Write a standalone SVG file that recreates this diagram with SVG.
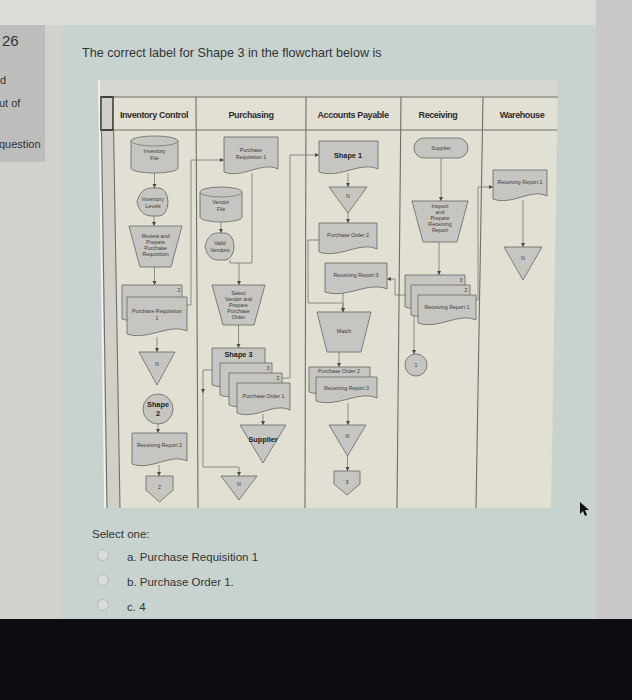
<svg xmlns="http://www.w3.org/2000/svg" width="632" height="700" viewBox="0 0 632 700">
<style>
.hdr{font-family:"Liberation Sans",Arial,sans-serif;font-size:9px;font-weight:bold;fill:#2e2e2e;text-anchor:middle;letter-spacing:-0.4px}
.t{font-family:"Liberation Sans",Arial,sans-serif;font-size:5.3px;fill:#3a3a3a;text-anchor:middle}
.tb{font-family:"Liberation Sans",Arial,sans-serif;font-size:7.3px;font-weight:bold;fill:#222;text-anchor:middle}
.sh{fill:#c6c5c1;stroke:#666;stroke-width:0.8}
.ln{fill:none;stroke:#777775;stroke-width:0.8}
.lane{stroke:#6e6e6c;stroke-width:1.1}
.ui{font-family:"Liberation Sans",Arial,sans-serif;fill:#333}
</style>
<defs>
<marker id="ar" markerUnits="userSpaceOnUse" markerWidth="6" markerHeight="6" refX="4" refY="2" orient="auto">
<path d="M0,0 L4,2 L0,4 Z" fill="#4a4a4a"/>
</marker>
</defs>

<!-- page background -->
<rect x="0" y="0" width="632" height="700" fill="#d2d1ce"/>
<rect x="0" y="0" width="632" height="25" fill="#dcdbd8"/>
<rect x="596" y="0" width="36" height="620" fill="#c9c8c6"/>
<rect x="0" y="25" width="45" height="137" fill="#bdbdbb"/>
<rect x="63" y="25" width="533" height="595" fill="#c8d3d0"/>
<rect x="0" y="619" width="632" height="81" fill="#0b0d11"/>

<g id="sidebar">
<text x="2" y="46" class="ui" font-size="15">26</text>
<text x="0" y="84" class="ui" font-size="11">d</text>
<text x="-1" y="107" class="ui" font-size="11">ut of</text>
<text x="-1" y="148" class="ui" font-size="11">question</text>
</g>

<text x="82" y="57" class="ui" font-size="12.6">The correct label for Shape 3 in the flowchart below is</text>

<!-- flowchart frame -->
<g id="frame">
<polygon points="98,80 558,80 551,508 105,508" fill="#e2dfd3"/>
<rect x="98" y="80" width="460" height="17" fill="#d7d6d1"/>
<polygon points="101,97 113,97 120,508 107,508" fill="#d1cfc8"/>
<line x1="99" y1="80" x2="105" y2="508" stroke="#f4f4f0" stroke-width="1.5"/>
<line x1="100" y1="97" x2="558" y2="97" class="lane"/>
<line x1="100" y1="130" x2="557" y2="130" class="lane"/>
<rect x="101" y="97" width="12" height="33" fill="none" stroke="#2a2a2a" stroke-width="1.6"/>
<line x1="101" y1="97" x2="107" y2="508" class="lane"/>
<line x1="113" y1="97" x2="120" y2="508" class="lane"/>
<line x1="196" y1="97" x2="198" y2="508" class="lane"/>
<line x1="306" y1="97" x2="305" y2="508" class="lane"/>
<line x1="401" y1="97" x2="397" y2="508" class="lane"/>
<line x1="483" y1="97" x2="476" y2="508" class="lane"/>
<text x="154" y="118" class="hdr">Inventory Control</text>
<text x="251" y="118" class="hdr">Purchasing</text>
<text x="353" y="118" class="hdr">Accounts Payable</text>
<text x="438" y="118" class="hdr">Receiving</text>
<text x="522" y="118" class="hdr">Warehouse</text>
</g>

<!-- connectors -->
<g id="connectors">
<path class="ln" d="M154.5 173 V188" marker-end="url(#ar)"/>
<path class="ln" d="M154 216 V226" marker-end="url(#ar)"/>
<path class="ln" d="M154.5 267 V285" marker-end="url(#ar)"/>
<path class="ln" d="M157 337 V352" marker-end="url(#ar)"/>
<path class="ln" d="M158 424 V433" marker-end="url(#ar)"/>
<path class="ln" d="M159 465 V476" marker-end="url(#ar)"/>
<path class="ln" d="M187 305 H191 V160 H224" marker-end="url(#ar)"/>
<path class="ln" d="M221 222 V233" marker-end="url(#ar)"/>
<path class="ln" d="M252 173 V263 H230 V260"/>
<path class="ln" d="M239 263 V285" marker-end="url(#ar)"/>
<path class="ln" d="M238.5 325 V348" marker-end="url(#ar)"/>
<path class="ln" d="M263 414 V425" marker-end="url(#ar)"/>
<path class="ln" d="M212 370 H203 V393" marker-end="url(#ar)"/>
<path class="ln" d="M203 392 V467 H239 V476" marker-end="url(#ar)"/>
<path class="ln" d="M282 378 H290 V155 H319" marker-end="url(#ar)"/>
<path class="ln" d="M348 173 V187" marker-end="url(#ar)"/>
<path class="ln" d="M348 213 V223" marker-end="url(#ar)"/>
<path class="ln" d="M319 240 H308 V303 H343 V312" marker-end="url(#ar)"/>
<path class="ln" d="M343 293 V312" marker-end="url(#ar)"/>
<path class="ln" d="M405 295 H395 V279 H387" marker-end="url(#ar)"/>
<path class="ln" d="M339 352 V367" marker-end="url(#ar)"/>
<path class="ln" d="M348 403 V425" marker-end="url(#ar)"/>
<path class="ln" d="M347.5 456 V471" marker-end="url(#ar)"/>
<path class="ln" d="M441 158 V201" marker-end="url(#ar)"/>
<path class="ln" d="M439 242 V275" marker-end="url(#ar)"/>
<path class="ln" d="M414 316 V354" marker-end="url(#ar)"/>
<path class="ln" d="M476 300 H478 V187 H493" marker-end="url(#ar)"/>
<path class="ln" d="M523 200 V247" marker-end="url(#ar)"/>
</g>

<!-- Inventory Control -->
<g id="inventory-file">
<path class="sh" d="M131 141 A23.5 5 0 0 1 178 141 V168 A23.5 5 0 0 1 131 168 Z"/>
<path class="ln" d="M131 141 A23.5 5 0 0 0 178 141" stroke="#666"/>
<text x="154.5" y="153" class="t">Inventory</text>
<text x="154.5" y="159.5" class="t">File</text>
</g>
<g id="inventory-levels">
<path class="sh" d="M137 202 C139 193 144 188 152 188 H159 A9 14 0 0 1 159 216 H152 C144 216 139 211 137 202 Z"/>
<text x="153" y="201" class="t">Inventory</text>
<text x="153" y="207.5" class="t">Levels</text>
</g>
<g id="prepare-requisition">
<path class="sh" d="M129 226 H182 L171 267 H140 Z"/>
<text x="155.5" y="238" class="t">Review and</text>
<text x="155.5" y="244" class="t">Prepare</text>
<text x="155.5" y="250" class="t">Purchase</text>
<text x="155.5" y="256" class="t">Requisition</text>
</g>
<g id="purchase-requisition-stack">
<path class="sh" d="M122 285 h60 v31 c-18 -8 -39 10 -60 3 z"/>
<text x="179" y="292" class="t">2</text>
<path class="sh" d="M127 297 h60 v34 c-18 -8 -39 10 -60 3 z"/>
<text x="157" y="313" class="t">Purchase Requisition</text>
<text x="157" y="320" class="t">1</text>
</g>
<g id="inv-file-n">
<path class="sh" d="M139 352 H175 L157 385 Z"/>
<text x="157" y="366" class="t">N</text>
</g>
<g id="shape-2">
<circle class="sh" cx="158" cy="409" r="15"/>
<text x="158" y="407" class="tb" font-size="6.6">Shape</text>
<text x="158" y="415.5" class="tb" font-size="6.6">2</text>
</g>
<g id="receiving-report-2">
<path class="sh" d="M132 433 h55 v28 c-16.5 -8 -35.8 10 -55 3 z"/>
<text x="159.5" y="447" class="t">Receiving Report 2</text>
</g>
<g id="offpage-2">
<path class="sh" d="M146 476 H173 V490 L159.5 502 L146 490 Z"/>
<text x="159.5" y="489" class="t">2</text>
</g>

<!-- Purchasing -->
<g id="purchase-requisition-1">
<path class="sh" d="M224 137 h54 v32 c-16 -8 -35 10 -54 3 z"/>
<text x="251" y="152" class="t">Purchase</text>
<text x="251" y="158.5" class="t">Requisition 1</text>
</g>
<g id="vendor-file">
<path class="sh" d="M200 192 A21 5 0 0 1 242 192 V217 A21 5 0 0 1 200 217 Z"/>
<path class="ln" d="M200 192 A21 5 0 0 0 242 192" stroke="#666"/>
<text x="221" y="204" class="t">Vendor</text>
<text x="221" y="210.5" class="t">File</text>
</g>
<g id="valid-vendors">
<path class="sh" d="M205 246.5 C207 238 211 233 218 233 H225 A9 13.5 0 0 1 225 260 H218 C211 260 207 255 205 246.5 Z"/>
<text x="220" y="245" class="t" font-size="5.8">Valid</text>
<text x="220" y="251.5" class="t" font-size="5.8">Vendors</text>
</g>
<g id="prepare-po">
<path class="sh" d="M212 285 H265 L254 325 H223 Z"/>
<text x="238.5" y="295" class="t" font-size="4.9">Select</text>
<text x="238.5" y="301" class="t" font-size="4.9">Vendor and</text>
<text x="238.5" y="307" class="t" font-size="4.9">Prepare</text>
<text x="238.5" y="313" class="t" font-size="4.9">Purchase</text>
<text x="238.5" y="319" class="t" font-size="4.9">Order</text>
</g>
<g id="purchase-order-stack">
<path class="sh" d="M212 348 h53 v34 c-16 -8 -34 10 -53 3 z"/>
<text x="238.5" y="356.5" class="tb">Shape 3</text>
<path class="sh" d="M220 363 h52 v29 c-16 -8 -34 10 -52 3 z"/>
<text x="268" y="370" class="t">3</text>
<path class="sh" d="M229 373 h53 v29 c-16 -8 -34 10 -53 3 z"/>
<text x="278" y="380" class="t">2</text>
<path class="sh" d="M237 383 h53 v27 c-16 -8 -34 10 -53 3 z"/>
<text x="263.5" y="398" class="t">Purchase Order 1</text>
</g>
<g id="supplier-out">
<path class="sh" d="M240 425 H286 L263 463 Z"/>
<text x="263" y="442" class="tb">Supplier</text>
</g>
<g id="purch-file-n">
<path class="sh" d="M221 476 H257 L239 500 Z"/>
<text x="239" y="486" class="t">N</text>
</g>

<!-- Accounts Payable -->
<g id="shape-1">
<path class="sh" d="M319 141 h59 v28 c-18 -8 -38 10 -59 3 z"/>
<text x="348" y="158" class="tb">Shape 1</text>
</g>
<g id="ap-file-n1">
<path class="sh" d="M329 187 H367 L348 213 Z"/>
<text x="348" y="198" class="t">N</text>
</g>
<g id="purchase-order-2">
<path class="sh" d="M319 223 h58 v26 c-17 -8 -38 10 -58 3 z"/>
<text x="348" y="237" class="t">Purchase Order 2</text>
</g>
<g id="receiving-report-3">
<path class="sh" d="M325 263 h62 v26 c-19 -8 -40 10 -62 3 z"/>
<text x="356" y="277" class="t">Receiving Report 3</text>
</g>
<g id="match">
<path class="sh" d="M317 312 H371 L361 352 H327 Z"/>
<text x="344" y="333" class="t">Match</text>
</g>
<g id="matched-docs">
<path class="sh" d="M309 367 h61 v22 c-18 -8 -40 10 -61 3 z"/>
<text x="339" y="373" class="t">Purchase Order 2</text>
<path class="sh" d="M316 377 h61 v21 c-18 -8 -40 10 -61 3 z"/>
<text x="346.5" y="390" class="t">Receiving Report 3</text>
</g>
<g id="ap-file-n2">
<path class="sh" d="M329 425 H366 L347.5 456 Z"/>
<text x="347.5" y="438" class="t">N</text>
</g>
<g id="offpage-3">
<path class="sh" d="M334 471 H360 V484 L347 495 L334 484 Z"/>
<text x="347" y="484" class="t">3</text>
</g>

<!-- Receiving -->
<g id="supplier-in">
<rect class="sh" x="414" y="138" width="54" height="20" rx="10"/>
<text x="441" y="150" class="t">Supplier</text>
</g>
<g id="inspect">
<path class="sh" d="M412 201 H468 L457 242 H423 Z"/>
<text x="440" y="208" class="t">Inspect</text>
<text x="440" y="214" class="t">and</text>
<text x="440" y="220" class="t">Prepare</text>
<text x="440" y="226" class="t">Receiving</text>
<text x="440" y="232" class="t">Report</text>
</g>
<g id="receiving-report-stack">
<path class="sh" d="M405 275 h60 v29 c-18 -8 -39 10 -60 3 z"/>
<text x="461" y="282" class="t">3</text>
<path class="sh" d="M411 285 h59 v27 c-18 -8 -38 10 -59 3 z"/>
<text x="466" y="292" class="t">2</text>
<path class="sh" d="M418 295 h58 v25 c-17 -8 -38 10 -58 3 z"/>
<text x="447" y="309" class="t">Receiving Report 1</text>
</g>
<g id="onpage-1">
<circle class="sh" cx="416" cy="365" r="11"/>
<text x="416" y="367" class="t">1</text>
</g>

<!-- Warehouse -->
<g id="wh-receiving-report-1">
<path class="sh" d="M493 170 h54 v26 c-16 -8 -35 10 -54 3 z"/>
<text x="520" y="184" class="t">Receiving Report 1</text>
</g>
<g id="wh-file-n">
<path class="sh" d="M504 247 H542 L523 280 Z"/>
<text x="523" y="260" class="t">N</text>
</g>

<!-- answers -->
<g id="answers">
<text x="92" y="538" class="ui" font-size="11.5">Select one:</text>
<circle cx="103" cy="555" r="5.5" fill="#d9dddb" stroke="#b5bab8" stroke-width="1"/>
<circle cx="103" cy="580" r="5.5" fill="#d9dddb" stroke="#b5bab8" stroke-width="1"/>
<circle cx="103" cy="605" r="5.5" fill="#d9dddb" stroke="#b5bab8" stroke-width="1"/>
<text x="127" y="561" class="ui" font-size="11.5">a.  Purchase Requisition 1</text>
<text x="127" y="586" class="ui" font-size="11.5">b. Purchase Order 1.</text>
<text x="127" y="611" class="ui" font-size="11.5">c. 4</text>
</g>
<path d="M580 502 L580 514 L583 511 L585 516 L587 515 L585 510 L589 510 Z" fill="#111"/>
</svg>
